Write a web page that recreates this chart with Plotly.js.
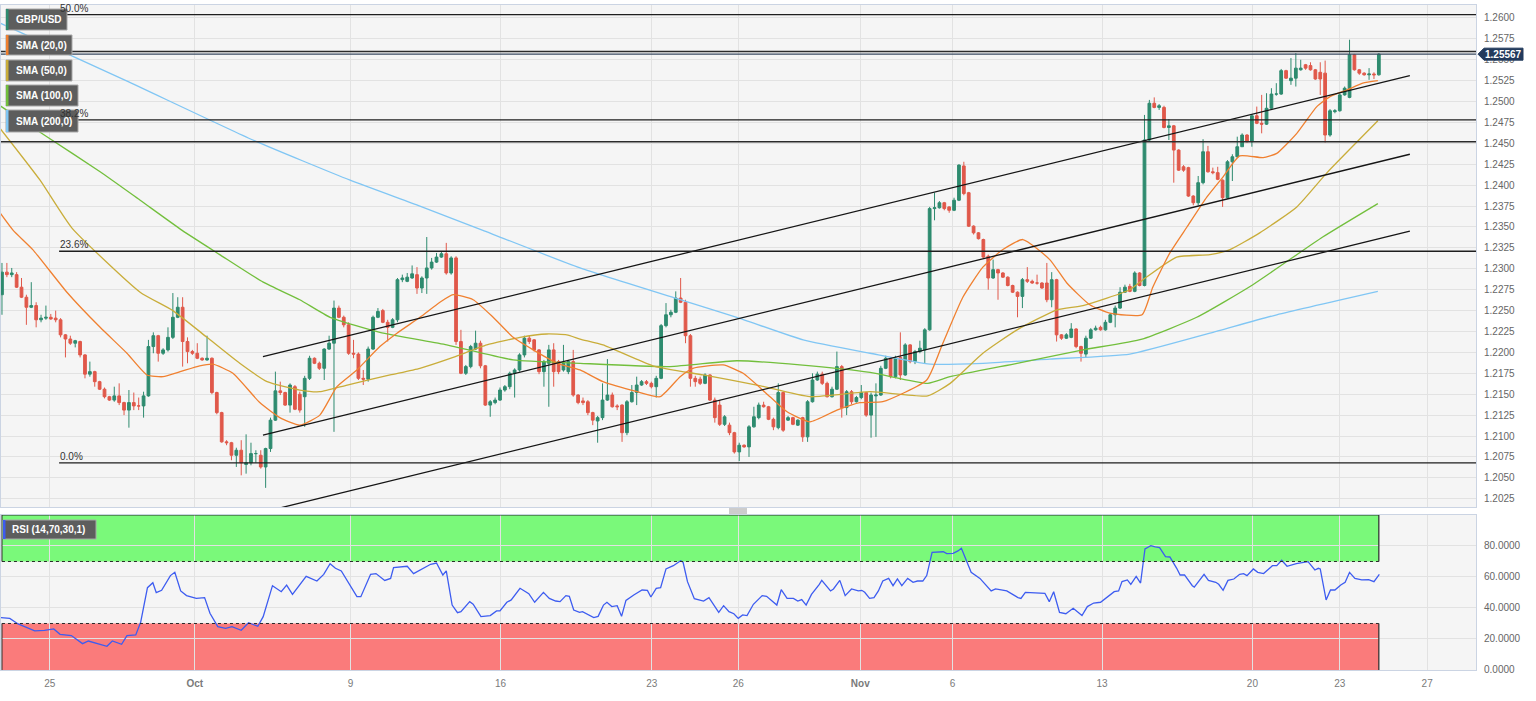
<!DOCTYPE html>
<html>
<head>
<meta charset="utf-8">
<script src="https://cdn.plot.ly/plotly-3.0.1.min.js"></script>
<style>html,body{margin:0;padding:0;background:#fff;}#chart{width:1536px;height:701px;}</style>
</head>
<body>
<div id="chart"></div>
<script>
// ---------------- DATA (4h GBP/USD candles) ----------------
const openP = [
1.2269,1.2296,1.2293,1.2293,1.2278,1.2266,1.2254,1.2256,1.2239,1.2241,
1.2242,1.2241,1.2239,1.2221,1.2216,1.2211,1.2213,1.2197,1.2174,1.2177,
1.2165,1.2156,1.2147,1.2143,1.2148,1.2140,1.2131,1.2140,1.2136,1.2136,
1.2148,1.2207,1.2220,1.2199,1.2203,1.2218,1.2242,1.2254,1.2213,1.2201,
1.2199,1.2193,1.2191,1.2193,1.2152,1.2128,1.2093,1.2092,1.2077,1.2083,
1.2066,1.2068,1.2079,1.2077,1.2063,1.2085,1.2119,1.2154,1.2152,
1.2137,1.2159,1.2150,1.2147,1.2169,1.2193,1.2187,1.2181,1.2204,1.2211,
1.2253,1.2242,1.2233,1.2199,1.2198,1.2169,1.2168,1.2204,1.2242,1.2250,
1.2236,1.2230,1.2239,1.2287,1.2285,1.2289,1.2293,1.2277,1.2289,1.2301,
1.2308,1.2314,1.2318,1.2295,1.2313,1.2213,1.2175,1.2183,1.2204,1.2211,
1.2184,1.2137,1.2140,1.2143,1.2155,1.2159,1.2175,1.2179,1.2197,1.2217,
1.2215,1.2203,1.2177,1.2187,1.2203,1.2189,1.2179,1.2177,1.2189,1.2149,
1.2142,1.2141,1.2128,1.2118,1.2122,1.2143,1.2149,1.2136,1.2137,1.2104,
1.2141,1.2152,1.2161,1.2165,1.2163,1.2159,1.2169,1.2232,1.2245,1.2248,
1.2265,1.2260,1.2220,1.2169,1.2168,1.2163,1.2173,1.2143,1.2137,1.2114,
1.2113,1.2104,1.2081,1.2089,1.2087,1.2111,1.2122,1.2137,1.2135,1.2120,
1.2110,1.2152,1.2119,1.2122,1.2113,1.2122,1.2099,1.2141,1.2167,1.2174,
1.2163,1.2147,1.2156,1.2183,1.2134,1.2153,1.2141,1.2146,
1.2152,1.2125,1.2148,1.2149,1.2181,1.2193,1.2171,1.2194,1.2173,1.2209,
1.2189,1.2201,1.2203,1.2227,1.2372,1.2373,1.2379,1.2374,1.2370,1.2382,
1.2423,1.2391,1.2351,1.2343,1.2335,1.2315,1.2289,1.2299,1.2295,1.2290,
1.2280,1.2272,1.2267,1.2287,1.2285,1.2283,1.2283,1.2283,1.2263,1.2287,
1.2221,1.2217,1.2218,1.2228,1.2207,1.2198,1.2217,1.2227,1.2230,1.2227,
1.2236,1.2245,1.2253,1.2272,
1.2279,1.2273,1.2295,1.2280,1.2454,1.2498,1.2493,1.2493,1.2469,1.2471,
1.2442,1.2422,1.2421,1.2387,1.2379,1.2403,1.2440,1.2416,1.2415,1.2406,
1.2385,1.2428,1.2434,1.2446,1.2460,1.2452,1.2483,1.2474,1.2473,1.2492,
1.2509,1.2509,1.2537,1.2525,1.2528,1.2538,1.2544,1.2543,1.2538,1.2535,
1.2534,1.2460,1.2488,1.2489,1.2508,1.2505,1.2556,1.2538,1.2534,1.2532,
1.2533,1.2532];
const highP = [
1.2307,1.2307,1.2301,1.2296,1.2289,1.2269,1.2284,1.2260,1.2245,1.2256,
1.2246,1.2250,1.2241,1.2222,1.2220,1.2215,1.2214,1.2198,1.2189,1.2178,
1.2166,1.2158,1.2148,1.2159,1.2163,1.2141,1.2155,1.2152,1.2146,1.2153,
1.2215,1.2224,1.2221,1.2205,1.2230,1.2271,1.2266,1.2266,1.2218,1.2203,
1.2211,1.2194,1.2220,1.2194,1.2153,1.2129,1.2095,1.2093,1.2086,1.2095,
1.2102,1.2092,1.2083,1.2083,1.2086,1.2122,1.2177,1.2165,1.2153,
1.2163,1.2161,1.2153,1.2172,1.2196,1.2194,1.2189,1.2205,1.2220,1.2262,
1.2256,1.2244,1.2236,1.2215,1.2200,1.2179,1.2207,1.2244,1.2253,1.2252,
1.2239,1.2241,1.2289,1.2293,1.2295,1.2304,1.2302,1.2291,1.2338,1.2313,
1.2319,1.2321,1.2331,1.2315,1.2315,1.2227,1.2185,1.2209,1.2226,1.2214,
1.2185,1.2143,1.2146,1.2158,1.2161,1.2177,1.2181,1.2199,1.2220,1.2220,
1.2216,1.2204,1.2191,1.2209,1.2211,1.2191,1.2209,1.2191,1.2203,1.2150,
1.2146,1.2143,1.2129,1.2124,1.2163,1.2192,1.2152,1.2138,1.2138,1.2143,
1.2161,1.2171,1.2167,1.2167,1.2165,1.2172,1.2234,1.2259,1.2251,1.2273,
1.2289,1.2263,1.2222,1.2172,1.2171,1.2175,1.2174,1.2146,1.2143,1.2125,
1.2116,1.2105,1.2092,1.2090,1.2113,1.2135,1.2140,1.2141,1.2136,1.2122,
1.2163,1.2153,1.2124,1.2123,1.2120,1.2123,1.2143,1.2175,1.2177,1.2177,
1.2165,1.2159,1.2201,1.2185,1.2155,1.2155,1.2148,1.2161,
1.2153,1.2152,1.2163,1.2184,1.2196,1.2194,1.2196,1.2224,1.2211,1.2210,
1.2203,1.2214,1.2229,1.2374,1.2391,1.2381,1.2380,1.2375,1.2385,1.2425,
1.2428,1.2392,1.2352,1.2344,1.2336,1.2317,1.2311,1.2300,1.2296,1.2291,
1.2281,1.2273,1.2289,1.2302,1.2287,1.2293,1.2284,1.2307,1.2296,1.2288,
1.2222,1.2223,1.2235,1.2229,1.2208,1.2220,1.2229,1.2232,1.2232,1.2239,
1.2247,1.2256,1.2278,1.2281,
1.2282,1.2297,1.2296,1.2484,1.2502,1.2505,1.2497,1.2495,1.2479,1.2472,
1.2443,1.2424,1.2422,1.2388,1.2411,1.2455,1.2447,1.2421,1.2422,1.2407,
1.2430,1.2437,1.2458,1.2462,1.2461,1.2485,1.2494,1.2508,1.2510,1.2516,
1.2522,1.2539,1.2538,1.2552,1.2558,1.2550,1.2545,1.2547,1.2539,1.2547,
1.2549,1.2491,1.2491,1.2510,1.2518,1.2574,1.2557,1.2539,1.2535,1.2540,
1.2535,1.2558];
const lowP = [
1.2245,1.2290,1.2290,1.2277,1.2265,1.2233,1.2253,1.2230,1.2236,1.2239,
1.2239,1.2236,1.2218,1.2194,1.2209,1.2206,1.2194,1.2169,1.2171,1.2159,
1.2155,1.2145,1.2142,1.2141,1.2137,1.2125,1.2110,1.2131,1.2131,1.2122,
1.2147,1.2199,1.2189,1.2197,1.2201,1.2216,1.2241,1.2183,1.2187,1.2197,
1.2192,1.2190,1.2190,1.2150,1.2126,1.2092,1.2089,1.2071,1.2063,1.2053,
1.2055,1.2065,1.2068,1.2061,1.2038,1.2081,1.2118,1.2149,1.2136,
1.2128,1.2131,1.2128,1.2111,1.2167,1.2186,1.2179,1.2167,1.2203,1.2105,
1.2241,1.2230,1.2197,1.2193,1.2167,1.2161,1.2165,1.2203,1.2241,1.2235,
1.2213,1.2229,1.2236,1.2284,1.2284,1.2288,1.2270,1.2271,1.2270,1.2299,
1.2307,1.2313,1.2293,1.2293,1.2209,1.2174,1.2173,1.2181,1.2203,1.2181,
1.2136,1.2123,1.2138,1.2142,1.2153,1.2156,1.2146,1.2177,1.2194,1.2210,
1.2201,1.2174,1.2159,1.2135,1.2159,1.2174,1.2177,1.2174,1.2147,1.2138,
1.2137,1.2125,1.2113,1.2092,1.2119,1.2142,1.2134,1.2131,1.2093,1.2101,
1.2140,1.2137,1.2160,1.2161,1.2157,1.2146,1.2168,1.2230,1.2242,1.2247,
1.2259,1.2211,1.2159,1.2159,1.2161,1.2162,1.2142,1.2116,1.2112,1.2112,
1.2101,1.2079,1.2070,1.2086,1.2075,1.2110,1.2120,1.2134,1.2119,1.2107,
1.2108,1.2105,1.2118,1.2113,1.2112,1.2093,1.2093,1.2140,1.2166,1.2161,
1.2146,1.2146,1.2155,1.2122,1.2125,1.2138,1.2140,1.2144,
1.2123,1.2098,1.2099,1.2148,1.2180,1.2169,1.2169,1.2167,1.2172,1.2187,
1.2186,1.2199,1.2187,1.2226,1.2358,1.2372,1.2370,1.2367,1.2369,1.2381,
1.2388,1.2350,1.2341,1.2335,1.2313,1.2275,1.2288,1.2263,1.2289,1.2279,
1.2271,1.2242,1.2253,1.2283,1.2282,1.2281,1.2276,1.2260,1.2254,1.2213,
1.2215,1.2216,1.2217,1.2205,1.2189,1.2194,1.2216,1.2226,1.2226,1.2226,
1.2235,1.2230,1.2252,1.2271,
1.2272,1.2272,1.2279,1.2279,1.2452,1.2492,1.2490,1.2468,1.2454,1.2403,
1.2417,1.2416,1.2386,1.2376,1.2376,1.2401,1.2415,1.2413,1.2406,1.2374,
1.2384,1.2405,1.2433,1.2446,1.2451,1.2446,1.2473,1.2462,1.2472,1.2491,
1.2507,1.2508,1.2527,1.2520,1.2518,1.2537,1.2538,1.2537,1.2526,1.2508,
1.2451,1.2458,1.2486,1.2488,1.2507,1.2504,1.2537,1.2532,1.2531,1.2526,
1.2527,1.2531];
const closeP = [
1.2296,1.2293,1.2295,1.2278,1.2266,1.2254,1.2256,1.2239,1.2241,1.2242,
1.2240,1.2239,1.2221,1.2216,1.2211,1.2214,1.2197,1.2174,1.2177,1.2165,
1.2156,1.2147,1.2143,1.2148,1.2140,1.2131,1.2140,1.2136,1.2136,1.2148,
1.2207,1.2220,1.2199,1.2203,1.2218,1.2242,1.2254,1.2213,1.2201,1.2199,
1.2193,1.2191,1.2193,1.2152,1.2128,1.2093,1.2092,1.2077,1.2083,1.2068,
1.2068,1.2079,1.2079,1.2063,1.2085,1.2119,1.2154,1.2152,1.2137,
1.2161,1.2132,1.2131,1.2169,1.2193,1.2187,1.2181,1.2204,1.2211,1.2253,
1.2242,1.2233,1.2199,1.2198,1.2169,1.2168,1.2204,1.2242,1.2249,1.2236,
1.2230,1.2239,1.2287,1.2289,1.2290,1.2294,1.2277,1.2289,1.2301,1.2308,
1.2314,1.2318,1.2295,1.2313,1.2213,1.2175,1.2183,1.2207,1.2211,1.2184,
1.2137,1.2141,1.2143,1.2155,1.2159,1.2175,1.2179,1.2197,1.2217,1.2213,
1.2203,1.2177,1.2189,1.2203,1.2177,1.2177,1.2187,1.2189,1.2149,1.2140,
1.2140,1.2128,1.2119,1.2122,1.2143,1.2149,1.2135,1.2135,1.2104,1.2141,
1.2152,1.2161,1.2165,1.2163,1.2159,1.2169,1.2232,1.2245,1.2248,1.2265,
1.2260,1.2220,1.2169,1.2165,1.2163,1.2173,1.2143,1.2122,1.2114,1.2123,
1.2104,1.2081,1.2089,1.2087,1.2111,1.2123,1.2137,1.2135,1.2120,1.2111,
1.2152,1.2107,1.2122,1.2114,1.2119,1.2099,1.2141,1.2167,1.2174,1.2163,
1.2147,1.2156,1.2183,1.2134,1.2153,1.2141,1.2146,1.2152,
1.2125,1.2149,1.2149,1.2181,1.2193,1.2171,1.2193,1.2173,1.2209,1.2189,
1.2201,1.2205,1.2227,1.2372,1.2373,1.2379,1.2372,1.2370,1.2382,1.2424,
1.2390,1.2351,1.2343,1.2336,1.2314,1.2289,1.2299,1.2295,1.2290,1.2280,
1.2272,1.2267,1.2287,1.2285,1.2283,1.2283,1.2277,1.2263,1.2287,1.2221,
1.2217,1.2221,1.2228,1.2207,1.2199,1.2217,1.2227,1.2229,1.2227,1.2236,
1.2245,1.2253,1.2272,1.2278,
1.2273,1.2295,1.2280,1.2454,1.2498,1.2493,1.2495,1.2469,1.2471,1.2442,
1.2418,1.2418,1.2387,1.2379,1.2403,1.2440,1.2416,1.2415,1.2407,1.2385,
1.2428,1.2434,1.2446,1.2460,1.2452,1.2483,1.2474,1.2473,1.2492,1.2509,
1.2509,1.2537,1.2528,1.2528,1.2540,1.2540,1.2540,1.2538,1.2527,1.2527,
1.2460,1.2489,1.2489,1.2508,1.2516,1.2556,1.2538,1.2534,1.2532,1.2533,
1.2532,1.25567];

// bar-number positions of the date ticks
const tickBars = [9.8, 39.5, 71.4, 102.1, 133.1, 150.8, 175.8, 194.7, 225.3, 256.1, 274.0, 291.9];
const tickLabels = ['25','<b>Oct</b>','9','16','23','26','<b>Nov</b>','6','13','20','23','27'];
const priceTicks = [1.2025,1.2050,1.2075,1.2100,1.2125,1.2150,1.2175,1.2200,1.2225,1.2250,1.2275,1.2300,
                    1.2325,1.2350,1.2375,1.2400,1.2425,1.2450,1.2475,1.2500,1.2525,1.2550,1.2575,1.2600];
const rsiTicks = [0,20,40,60,80];

// moving averages (bar, price)
const sma20X = [-0.4,2.3,6.3,13.3,20.1,25.6,29.7,33,36.5,40.5,43.2,47.3,52.8,56.9,61,65.1,68.6,72.7,77.4,80.9,85.6,89.7,92.4,96.5,100.6,104.7,108.8,113.7,118.4,123.1,130.1,134.8,138.9,141.5,147.7,151.8,157.3,160.8,165.5,171,175.7,180.4,189.4,192.7,196.8,200.9,205,209.1,214.6,218.1,222.8,226.9,233.5,235.7,239.2,242.7,246.8,250.1,253.5,258.3,261.1,265.2,269.3,272,275.5,278.7,281.8];
const sma20Y = [1.2367,1.2346,1.2323,1.2272,1.2230,1.2199,1.2173,1.2171,1.2177,1.2184,1.2186,1.2175,1.2140,1.2122,1.2113,1.2125,1.2159,1.2179,1.2207,1.2223,1.2242,1.2260,1.2269,1.2263,1.2242,1.2218,1.2203,1.2187,1.2179,1.2165,1.2153,1.2147,1.2171,1.2181,1.2185,1.2175,1.2147,1.2129,1.2117,1.2131,1.2140,1.2141,1.2167,1.2211,1.2266,1.2302,1.2323,1.2335,1.2311,1.2283,1.2257,1.2247,1.2245,1.2278,1.2319,1.2350,1.2386,1.2410,1.2435,1.2433,1.2438,1.2462,1.2494,1.2506,1.2514,1.2522,1.2525];
const sma50X = [-0.4,7.8,14.3,28.3,35,42,48.7,54.3,61,65.1,70.7,79.5,85.6,92.4,99.3,106.1,111.6,115.7,118.4,123.1,133.3,143.6,154.6,165.5,177.8,189.6,194.2,200.9,207.9,216.1,221.4,231,233.7,240.6,247.4,251.5,257.6,265.2,271.4,281.8];
const sma50Y = [1.2468,1.2406,1.2349,1.2272,1.2250,1.2218,1.2187,1.2165,1.2155,1.2153,1.2161,1.2173,1.2181,1.2194,1.2209,1.2218,1.2222,1.2221,1.2216,1.2209,1.2184,1.2173,1.2161,1.2147,1.2153,1.2148,1.2163,1.2199,1.2227,1.2251,1.2256,1.2275,1.2287,1.2314,1.2317,1.2323,1.2343,1.2374,1.2415,1.2477];
const sma100X = [-0.4,9.2,20.1,28.3,36.9,44.6,53.5,61,67.2,77.4,91.1,104.7,118.4,136.8,150.5,163.4,177.8,189.6,194.2,207.9,221.4,233.5,244.7,256.2,270.5,281.8];
const sma100Y = [1.2495,1.2458,1.2416,1.2382,1.2346,1.2317,1.2284,1.2263,1.2242,1.2224,1.2209,1.2191,1.2187,1.2183,1.2190,1.2185,1.2176,1.2163,1.2171,1.2187,1.2203,1.2216,1.2242,1.2281,1.2338,1.2378];
const sma200X = [-0.4,25.4,51.4,71.3,85.6,98.5,118.4,138.9,150.5,164.1,177.8,190.1,200.9,214.6,231,247.4,261.1,281.8];
const sma200Y = [1.2594,1.2525,1.2454,1.2406,1.2375,1.2346,1.2301,1.2263,1.2242,1.2215,1.2199,1.2186,1.2187,1.2192,1.2198,1.2223,1.2245,1.2273];

// RSI (bar, value)
const rsiX = [-0.4,1.6,3.3,4.6,6.7,8.7,10.6,11.9,14.2,16.5,17.7,21.5,22.6,24.5,25.6,27.4,28.4,29.8,30.9,31.6,32.7,34.5,35.4,36.6,37.8,39.8,41.5,42.6,44.2,45.8,47.1,49,50.5,52.4,53.5,55.4,57.2,58.3,59.5,62.3,64.5,65.9,67.2,68.3,69.5,72.7,73.5,75.5,76.6,78.4,79.6,80.2,83,84.3,86,87.8,89,90.3,91,92.2,93.3,94,95.8,96.5,98.1,100,101.3,102,103.4,104.3,106.1,107.9,109.1,110.9,112.1,113.4,114.3,115.5,116.2,117.1,118.3,118.9,121.2,122.1,123.2,123.9,124.9,126,126.9,127.8,129.4,131.1,132.2,132.9,134,134.9,136,137.5,139,139.5,140.4,141.8,143.7,144.8,146.8,147.8,148.9,149.9,150.8,151.7,152.6,153.9,155.7,156.6,158.7,159.6,160.8,162.1,163,163.8,164.7,165.8,167.4,167.9,169.7,170.3,171.6,172.7,174,175.4,176.1,176.7,177.7,178.6,179.5,180.4,181.6,182.5,183.4,184.3,185.5,186.6,187.5,188.6,189.4,190.5,192.8,193.5,194.8,195.8,196.5,198.5,200.3,201.4,202.6,203.5,205.8,208.1,208.7,209.6,213,213.6,214.5,215.4,216.6,217.9,219.4,221.2,222.3,223.6,225,226.4,227.8,228.7,229.4,230.5,231.2,232.3,233.2,234.1,235.3,236.2,237.1,238.3,239.2,240.6,241.3,242.2,243.8,244.2,245.1,246.2,247.1,248.6,249.2,250.1,251.1,252.3,253.5,254.3,255,256.3,257.2,258.4,260.2,261.1,262.1,263.2,265.1,266.9,267.5,268.9,269.6,270,271.2,272.1,273,274.2,275.1,276,277.1,278.5,279.9,281,282.1];
const rsiY = [33.8,33.3,29.7,28,25.2,25.6,26.5,23,22.2,17,18.7,15.3,18.7,16.6,22.2,22.6,30.8,53.1,56.3,49.9,51.4,60.9,63,51,48,46.2,46.7,36.6,28,26.9,28,25.6,30.5,28.2,34.4,54.4,50.5,54.8,48.8,60.4,57.4,61.7,68.6,65.6,63.9,47.3,47.3,61.7,62.2,57.8,59.1,66,66.9,62.2,65.2,68.2,69,61.3,63.9,41.9,37,37.6,44.1,42.4,34.4,35.1,38.1,38.1,43.7,45.2,52.7,49.2,43.7,50.1,46.2,44.5,44.1,48,47.5,38.7,37.2,37.6,33.8,34.6,41.9,43.7,40.9,41.5,34.6,44.9,48.4,51.6,51.4,47.1,52.7,53.1,65.2,67.3,70.5,69.5,57,46,44.5,46.7,37.2,41.5,37.6,36.3,33.3,35.5,35.1,42.4,48,47.5,41.9,51.8,46.2,46.2,44.5,45.4,41.9,48.8,55.3,57.8,51,52.3,57.8,48,52.3,51,51.4,50.1,46.2,46.7,51,57.4,59.1,54.4,58.7,54.4,59.1,56.6,57.4,57.4,60.9,75.9,76.3,75.1,75.3,76.8,78.5,63,59.1,55.3,51,52.3,51,46.7,46.2,50.1,49.2,49.5,44.1,50.5,37.2,36.3,39.8,35.1,40.9,43.2,43.7,47.3,50.5,51,57,58.1,55.3,60.4,56.1,78.1,80.2,79.4,78.9,73.1,72.9,65.6,61.3,61.3,54.4,53.5,57,61.7,57.8,56.6,55.3,51.4,57.8,58.7,61.7,62.2,60.9,65.2,63,62.2,67.3,67.3,70.8,66.9,68.6,69.5,69.9,64.5,65.6,65.2,45.2,51.6,51.6,54.8,56.6,63,59.1,58.1,58.3,57,61.7];
const rsiOverbought = 70;
const rsiOversold = 30;

// Fibonacci retracement, horizontal levels, channel
const fibLabels = ['0.0%','23.6%','38.2%','50.0%'];
const fibPrices = [1.2068, 1.2321, 1.2478, 1.2604];
const fibStartBar = 11.7;
const levelPrices = [1.2560, 1.2452];
const lastPrice = 1.25567;
const channelBars = [53.45, 288.35];
const channelUpper = [1.2195, 1.2531];
const channelMiddle = [1.2101, 1.2437];
const channelLower = [1.2009, 1.2345];

const legendNames = ['GBP/USD','SMA (20,0)','SMA (50,0)','SMA (100,0)','SMA (200,0)'];
const rsiName = 'RSI (14,70,30,1)';

// ---------------- LAYOUT / STYLE ----------------
const FONT = 'Liberation Sans, Arial, sans-serif';
const PLOT = {left: 1, top: 5, width: 1475, height: 665};
const MAIN_DOMAIN = [0.2451, 1];
const RSI_DOMAIN = [0, 0.2331];
const PRICE_RANGE = [1.20151, 1.26155];
const BAR_RANGE = [-0.2, 301.9];
const COLORS = {up:'#2e8b6f', down:'#e0584a', sma20:'#f08030', sma50:'#c9ad3a', sma100:'#72bf3c', sma200:'#80c6f4', rsi:'#3d5cf0'};
const pxX = px => (px - PLOT.left) / PLOT.width;
const pxY = py => (PLOT.top + PLOT.height - py) / PLOT.height;
const priceToPaper = p => MAIN_DOMAIN[0] + (p - PRICE_RANGE[0]) / (PRICE_RANGE[1] - PRICE_RANGE[0]) * (MAIN_DOMAIN[1] - MAIN_DOMAIN[0]);

const bars = closeP.map((_, i) => i);
const lastBar = bars[bars.length - 1];

const traces = [
  {type:'candlestick', x:bars, open:openP, high:highP, low:lowP, close:closeP, xaxis:'x', yaxis:'y',
   increasing:{line:{color:COLORS.up, width:1}, fillcolor:COLORS.up},
   decreasing:{line:{color:COLORS.down, width:1}, fillcolor:COLORS.down},
   whiskerwidth:0, hoverinfo:'skip', showlegend:false},
  {type:'scatter', mode:'lines', x:sma200X, y:sma200Y, line:{color:COLORS.sma200, width:1.3, shape:'spline', smoothing:0.5}, xaxis:'x', yaxis:'y', hoverinfo:'skip'},
  {type:'scatter', mode:'lines', x:sma100X, y:sma100Y, line:{color:COLORS.sma100, width:1.3, shape:'spline', smoothing:0.5}, xaxis:'x', yaxis:'y', hoverinfo:'skip'},
  {type:'scatter', mode:'lines', x:sma50X, y:sma50Y, line:{color:COLORS.sma50, width:1.3, shape:'spline', smoothing:0.5}, xaxis:'x', yaxis:'y', hoverinfo:'skip'},
  {type:'scatter', mode:'lines', x:sma20X, y:sma20Y, line:{color:COLORS.sma20, width:1.3, shape:'spline', smoothing:0.5}, xaxis:'x', yaxis:'y', hoverinfo:'skip'},
  {type:'scatter', mode:'lines', x:channelBars, y:channelUpper, line:{color:'#151515', width:1.3}, xaxis:'x', yaxis:'y', hoverinfo:'skip'},
  {type:'scatter', mode:'lines', x:channelBars, y:channelMiddle, line:{color:'#151515', width:1.3}, xaxis:'x', yaxis:'y', hoverinfo:'skip'},
  {type:'scatter', mode:'lines', x:channelBars, y:channelLower, line:{color:'#151515', width:1.3}, xaxis:'x', yaxis:'y', hoverinfo:'skip'},
  {type:'scatter', mode:'lines', x:rsiX, y:rsiY, line:{color:COLORS.rsi, width:1.3}, xaxis:'x2', yaxis:'y2', hoverinfo:'skip'}
];

const shapes = [];
// RSI zones
shapes.push({type:'rect', xref:'x2', yref:'y2', x0:0, x1:lastBar, y0:rsiOverbought, y1:100, fillcolor:'#7af97a', line:{width:0}, layer:'below'});
shapes.push({type:'rect', xref:'x2', yref:'y2', x0:0, x1:lastBar, y0:0, y1:rsiOversold, fillcolor:'#fa7b7b', line:{width:0}, layer:'below'});
[rsiOverbought, rsiOversold].forEach(v => shapes.push({type:'line', xref:'x2', yref:'y2', x0:0, x1:lastBar, y0:v, y1:v, line:{color:'#2a2a2a', width:1, dash:'dot'}}));
[[rsiOverbought,100],[0,rsiOversold]].forEach(r => {
  shapes.push({type:'line', xref:'x2', yref:'y2', x0:lastBar, x1:lastBar, y0:r[0], y1:r[1], line:{color:'#2a2a2a', width:1.2}});
  shapes.push({type:'line', xref:'x2', yref:'y2', x0:0, x1:0, y0:r[0], y1:r[1], line:{color:'#2a2a2a', width:1}});
});
shapes.push({type:'line', xref:'x2', yref:'y2', x0:0, x1:lastBar, y0:100, y1:100, line:{color:'#2a2a2a', width:1}});
// Fibonacci lines
fibPrices.forEach(p => shapes.push({type:'line', xref:'x', yref:'y', x0:fibStartBar, x1:BAR_RANGE[1], y0:p, y1:p, line:{color:'#1e1e1e', width:1.3}}));
// horizontal levels
levelPrices.forEach(p => shapes.push({type:'line', xref:'x', yref:'y', x0:BAR_RANGE[0], x1:BAR_RANGE[1], y0:p, y1:p, line:{color:'#2b2b2b', width:1.5}}));
shapes.push({type:'line', xref:'x', yref:'y', x0:BAR_RANGE[0], x1:BAR_RANGE[1], y0:lastPrice, y1:lastPrice, line:{color:'#3a4a60', width:1.2}});

// legend boxes (pixel geometry)
const legendBoxes = [[6,67,9,30],[6,72,35,55],[6,72,60,81],[6,78,85,106],[6,78,110,132]];
const legendColors = [COLORS.up, COLORS.sma20, COLORS.sma50, COLORS.sma100, COLORS.sma200];
const annotations = [];
legendBoxes.forEach((b, k) => {
  shapes.push({type:'rect', xref:'paper', yref:'paper', x0:pxX(b[0]), x1:pxX(b[1]), y0:pxY(b[3]), y1:pxY(b[2]), fillcolor:'#5d5d5d', line:{color:'#a8a8a8', width:1}, layer:'above'});
  shapes.push({type:'rect', xref:'paper', yref:'paper', x0:pxX(b[0]), x1:pxX(b[0]+2.5), y0:pxY(b[3]), y1:pxY(b[2]), fillcolor:legendColors[k], line:{width:0}, layer:'above'});
  annotations.push({xref:'paper', yref:'paper', x:pxX(14), y:pxY((b[2]+b[3])/2), xanchor:'left', yanchor:'middle', showarrow:false,
    text:'<b>'+legendNames[k]+'</b>', font:{family:FONT, size:10, color:'#ffffff'}});
});
// RSI legend
shapes.push({type:'rect', xref:'paper', yref:'paper', x0:pxX(3), x1:pxX(96), y0:pxY(539), y1:pxY(520), fillcolor:'#5d5d5d', line:{color:'#a8a8a8', width:1}, layer:'above'});
shapes.push({type:'rect', xref:'paper', yref:'paper', x0:pxX(3), x1:pxX(5.5), y0:pxY(539), y1:pxY(520), fillcolor:COLORS.rsi, line:{width:0}, layer:'above'});
annotations.push({xref:'paper', yref:'paper', x:pxX(10), y:pxY(529.5), xanchor:'left', yanchor:'middle', showarrow:false,
  text:'<b>'+rsiName+'</b>', font:{family:FONT, size:10, color:'#ffffff'}});

// fib labels
fibPrices.forEach((p, k) => annotations.push({xref:'x', yref:'y', x:fibStartBar, y:p, xanchor:'left', yanchor:'bottom', showarrow:false,
  text:fibLabels[k], font:{family:FONT, size:10, color:'#333'}, borderpad:0, yshift:0}));

// last price tag
const tagY = priceToPaper(lastPrice);
const tagH = 6 / PLOT.height;
const tx = pxX(1478), tl = pxX(1484), tr = pxX(1523);
shapes.push({type:'path', xref:'paper', yref:'paper', layer:'above',
  path:`M ${tx},${tagY} L ${tl},${tagY+tagH} L ${tr},${tagY+tagH} L ${tr},${tagY-tagH} L ${tl},${tagY-tagH} Z`,
  fillcolor:'#223a5c', line:{color:'#223a5c', width:1}});
annotations.push({xref:'paper', yref:'paper', x:(tl+tr)/2, y:tagY, xanchor:'center', yanchor:'middle', showarrow:false,
  text:'<b>'+lastPrice.toFixed(5)+'</b>', font:{family:FONT, size:10, color:'#ffffff'}});

// panel drag handle
[509, 511, 513].forEach(py => shapes.push({type:'line', xref:'paper', yref:'paper', x0:pxX(729), x1:pxX(747), y0:pxY(py), y1:pxY(py), line:{color:'#9a9a9a', width:1}}));

const axisCommon = {showgrid:true, gridcolor:'#e2e2e2', gridwidth:1, zeroline:false, showline:true, mirror:true, linecolor:'#cbd4e3', linewidth:1, fixedrange:true};
const layout = {
  width:1536, height:701,
  margin:{l:PLOT.left, r:1536-PLOT.left-PLOT.width, t:PLOT.top, b:701-PLOT.top-PLOT.height},
  paper_bgcolor:'#ffffff', plot_bgcolor:'#f5f5f5',
  showlegend:false, hovermode:false, boxgap:0.2,
  font:{family:FONT, size:10, color:'#666'},
  xaxis:Object.assign({}, axisCommon, {domain:[0,1], range:BAR_RANGE, anchor:'y', tickvals:tickBars, showticklabels:false, ticks:'', rangeslider:{visible:false}}),
  xaxis2:Object.assign({}, axisCommon, {domain:[0,1], range:BAR_RANGE, anchor:'y2', tickvals:tickBars, ticktext:tickLabels,
    ticks:'outside', ticklen:4, tickcolor:'rgba(0,0,0,0)', tickfont:{family:FONT, size:10, color:'#7a7a7a'}}),
  yaxis:Object.assign({}, axisCommon, {domain:MAIN_DOMAIN, range:PRICE_RANGE, anchor:'x', side:'right', tickvals:priceTicks, tickformat:'.4f',
    ticks:'outside', ticklen:5, tickcolor:'rgba(0,0,0,0)', tickfont:{family:FONT, size:10, color:'#666'}}),
  yaxis2:Object.assign({}, axisCommon, {domain:RSI_DOMAIN, range:[0,100], anchor:'x2', side:'right', tickvals:rsiTicks, tickformat:'.4f',
    ticks:'outside', ticklen:5, tickcolor:'rgba(0,0,0,0)', tickfont:{family:FONT, size:10, color:'#666'}}),
  shapes:shapes, annotations:annotations
};

Plotly.newPlot('chart', traces, layout, {staticPlot:true, displayModeBar:false});
</script>
</body>
</html>
